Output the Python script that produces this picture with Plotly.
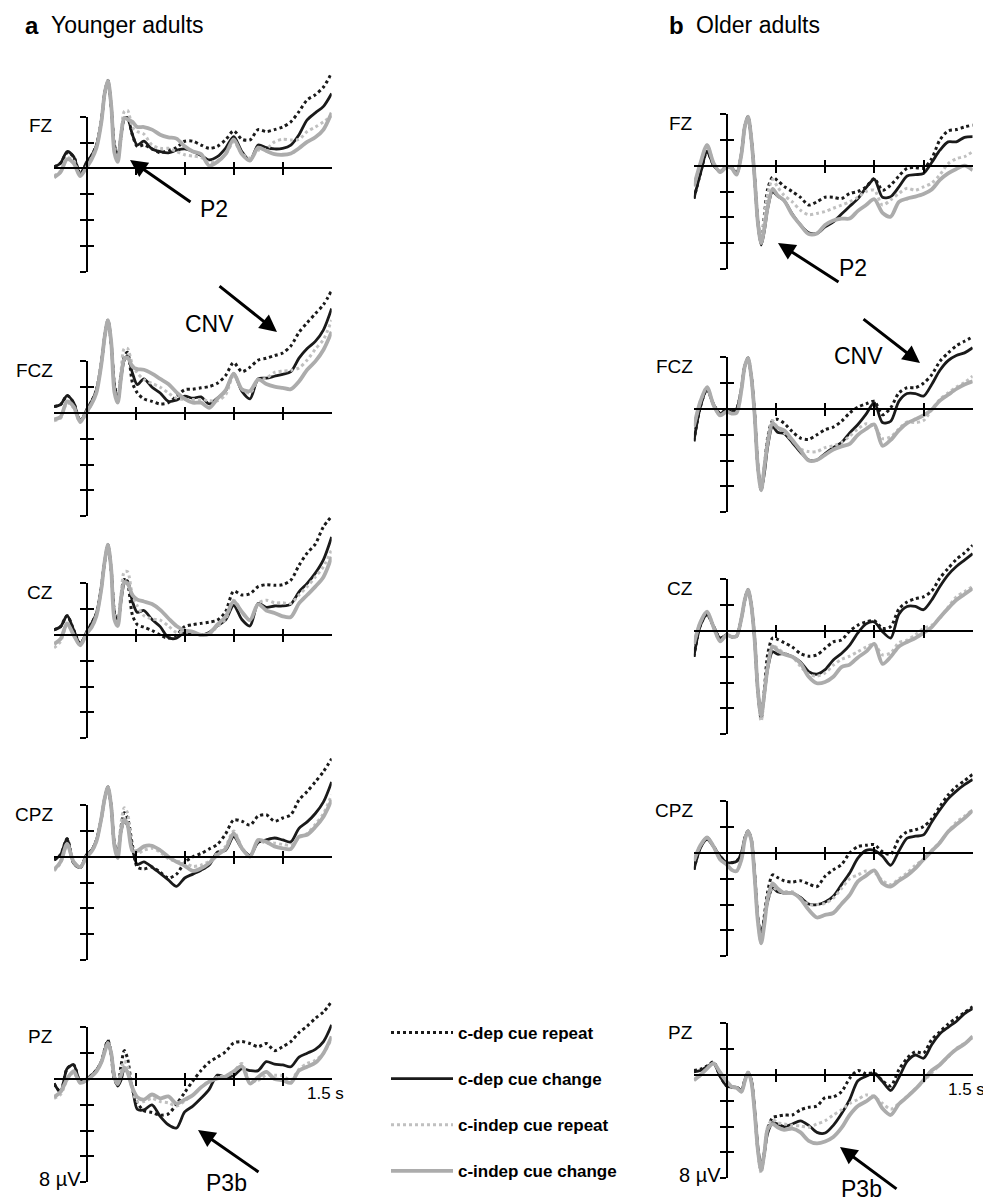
import plotly.graph_objects as go

# ---------------- data (µV, negative plotted up) ----------------
T = [-0.2, -0.16, -0.12, -0.08, -0.04, 0, 0.03, 0.06, 0.09, 0.11, 0.13, 0.15, 0.17, 0.19, 0.21, 0.23, 0.25,
     0.28, 0.31, 0.35, 0.4, 0.45, 0.5, 0.55, 0.6, 0.65, 0.7, 0.75, 0.8, 0.85, 0.9, 0.95, 1.0, 1.05, 1.1,
     1.15, 1.2, 1.25, 1.3, 1.35, 1.4, 1.45, 1.5]

ELECTRODES = ["FZ", "FCZ", "CZ", "CPZ", "PZ"]
CONDITIONS = ["c-dep cue repeat", "c-dep cue change", "c-indep cue repeat", "c-indep cue change"]
X_TICKS = [0.3, 0.6, 0.9, 1.2]
Y_TICKS = [-4, -2, 0, 2, 4, 6, 8]

# Younger adults
YA_FZ_REP = [-0.1,-0.4,-1.2,-0.9,0.4,-0.4,-1.0,-1.8,-3.7,-5.8,-6.8,-4.8,-1.8,-1.0,-2.4,-3.8,-3.9,-2.6,-1.7,-1.8,-1.5,-1.2,-1.4,-1.6,-2.1,-2.1,-1.8,-1.55,-1.7,-2.2,-2.9,-2.25,-2.2,-3.0,-2.85,-3.0,-3.2,-3.6,-4.4,-5.3,-5.7,-6.3,-7.4]
YA_FZ_CHG = [-0.1,-0.4,-1.3,-0.9,0.5,-0.5,-1.0,-1.8,-3.7,-5.8,-6.8,-4.8,-1.7,-0.9,-2.5,-3.9,-3.9,-2.6,-1.8,-2.1,-1.5,-1.3,-1.2,-1.4,-1.5,-1.3,-1.0,-0.65,-0.9,-1.55,-2.45,-1.3,-0.6,-1.8,-1.6,-1.5,-1.55,-1.8,-2.6,-3.75,-4.3,-4.8,-5.8]
YA_FZ_IREP = [0.6,0.2,-0.8,-0.6,0.6,-0.2,-0.8,-1.7,-3.6,-5.8,-6.8,-4.9,-1.6,-0.6,-2.6,-4.4,-4.5,-3.2,-2.85,-2.65,-1.8,-1.55,-1.55,-1.3,-1.05,-0.95,-0.85,-0.45,-0.6,-1.05,-2.05,-1.15,-0.8,-1.4,-1.5,-2.05,-2.25,-2.2,-2.25,-2.85,-3.2,-3.6,-4.05]
YA_FZ_ICHG = [0.7,0.3,-0.7,-0.4,0.6,-0.1,-0.7,-1.6,-3.6,-5.8,-6.8,-4.9,-1.2,-0.5,-2.5,-3.9,-3.8,-3.6,-3.2,-3.2,-3.0,-2.6,-2.4,-2.3,-1.7,-1.3,-1.1,-0.2,-0.5,-1.1,-2.25,-1.1,-0.6,-1.6,-1.35,-1.1,-1.05,-1.15,-1.55,-2.05,-2.4,-3.0,-4.3]

YA_FCZ_REP = [-0.5,-0.65,-1.35,-0.8,0.6,-0.25,-0.9,-1.8,-3.9,-5.9,-7.2,-5.4,-2.2,-1.2,-2.9,-4.4,-4.7,-2.35,-1.55,-1.1,-0.9,-0.7,-0.8,-1.3,-1.8,-1.85,-1.95,-2.05,-2.3,-2.9,-3.9,-3.2,-3.55,-4.1,-4.25,-4.45,-4.65,-5.2,-6.25,-7.0,-7.7,-8.4,-9.5]
YA_FCZ_CHG = [-0.5,-0.65,-1.35,-0.8,0.65,-0.25,-0.9,-1.8,-3.9,-5.9,-7.2,-5.4,-2.1,-0.9,-2.7,-4.1,-4.4,-3.1,-2.2,-2.65,-2.0,-1.55,-0.9,-1.0,-1.3,-1.15,-1.25,-0.7,-1.15,-1.7,-3.05,-1.7,-1.1,-2.65,-2.7,-2.85,-3.0,-3.2,-4.25,-5.0,-5.55,-6.45,-8.1]
YA_FCZ_IREP = [0.6,0.4,-0.8,-0.4,0.7,0.0,-0.7,-1.6,-3.8,-5.9,-7.2,-5.5,-1.8,-0.9,-3.2,-5.0,-5.0,-3.75,-3.1,-2.6,-2.3,-2.0,-1.55,-1.15,-1.05,-1.05,-1.05,-0.95,-0.95,-1.4,-2.9,-1.85,-1.55,-2.55,-2.7,-3.15,-3.25,-3.3,-3.5,-4.1,-4.95,-5.7,-7.2]
YA_FCZ_ICHG = [0.5,0.3,-0.9,-0.5,0.7,-0.1,-0.7,-1.6,-3.8,-5.9,-7.2,-5.5,-1.6,-0.8,-2.7,-4.2,-4.3,-3.6,-3.4,-3.35,-3.05,-2.65,-2.25,-1.6,-1.1,-0.8,-0.8,-0.4,-1.1,-1.75,-3.05,-1.85,-1.7,-2.6,-2.25,-2.05,-1.95,-1.85,-2.45,-3.35,-4.0,-4.9,-6.3]

YA_CZ_REP = [-0.4,-0.65,-1.5,-0.4,0.7,-0.25,-0.9,-1.7,-3.75,-5.7,-7.0,-5.05,-1.8,-1.0,-2.8,-4.3,-4.0,-1.55,-0.8,-0.6,-0.35,0.0,0.25,0.0,-0.65,-0.8,-0.9,-1.0,-1.15,-1.8,-3.4,-3.1,-3.2,-3.75,-3.9,-3.85,-3.9,-4.25,-5.4,-6.35,-7.05,-8.4,-9.2]
YA_CZ_CHG = [-0.4,-0.65,-1.5,-0.4,0.7,-0.25,-0.9,-1.7,-3.75,-5.7,-7.0,-5.05,-1.7,-0.9,-2.6,-4.0,-4.2,-2.6,-1.75,-1.9,-1.2,-0.65,0.2,0.25,-0.2,-0.15,0.0,-0.2,-0.7,-1.15,-2.3,-1.2,-0.7,-2.45,-2.15,-2.25,-2.25,-2.4,-3.35,-4.0,-4.8,-5.85,-7.6]
YA_CZ_IREP = [1.0,0.5,-0.8,0.0,0.8,-0.1,-0.6,-1.5,-3.6,-5.7,-7.0,-5.1,-1.6,-0.8,-3.0,-4.9,-4.9,-3.1,-2.25,-1.5,-1.25,-1.15,-0.7,-0.2,-0.25,-0.15,-0.05,-0.1,-0.65,-1.2,-2.7,-1.8,-1.15,-2.45,-2.7,-2.5,-2.5,-2.45,-3.1,-3.75,-4.5,-5.3,-6.6]
YA_CZ_ICHG = [0.7,0.3,-0.9,0.0,0.8,-0.1,-0.6,-1.5,-3.6,-5.7,-7.0,-5.1,-1.2,-0.7,-2.8,-4.1,-4.0,-3.1,-2.75,-2.6,-2.4,-1.95,-1.3,-0.7,-0.35,-0.25,0.0,-0.1,-0.8,-1.4,-2.6,-1.8,-1.15,-2.4,-1.9,-1.7,-1.45,-1.4,-2.45,-3.1,-3.75,-4.5,-6.05]

YA_CPZ_REP = [0.25,-0.15,-1.4,0.5,0.85,-0.15,-0.5,-1.3,-3.0,-4.5,-5.4,-3.9,-1.0,-0.3,-2.2,-3.4,-3.0,-0.9,0.8,0.95,0.8,1.2,1.65,1.35,0.45,0.0,-0.25,-0.6,-0.95,-1.75,-2.85,-2.75,-2.45,-3.15,-3.25,-2.75,-3.0,-3.25,-4.4,-5.05,-5.8,-6.6,-7.6]
YA_CPZ_CHG = [0.25,-0.15,-1.4,0.5,0.85,-0.15,-0.5,-1.3,-3.0,-4.5,-5.4,-3.9,-0.9,-0.15,-1.95,-2.75,-2.45,-0.65,0.6,0.4,0.8,1.3,1.8,2.3,1.65,1.35,1.05,0.65,-0.35,-0.5,-1.55,-0.65,-0.1,-1.1,-1.3,-1.45,-1.3,-1.15,-2.2,-2.7,-3.35,-4.25,-5.8]
YA_CPZ_IREP = [1.1,0.5,-0.9,0.4,0.8,0.0,-0.4,-1.2,-3.0,-4.5,-5.4,-3.9,-1.0,-0.1,-2.6,-3.8,-3.4,-0.65,-0.25,-0.5,-0.65,-0.35,0.15,0.35,0.45,0.75,0.65,0.35,-0.25,-0.8,-2.0,-0.7,0.0,-1.2,-1.05,-1.05,-0.95,-0.9,-1.45,-1.8,-2.5,-3.35,-4.8]
YA_CPZ_ICHG = [1.0,0.4,-1.0,0.4,0.8,0.0,-0.4,-1.2,-3.0,-4.5,-5.4,-3.9,-0.8,0.1,-2.0,-2.9,-2.5,-0.45,-0.45,-0.8,-0.85,-0.5,0.0,0.4,0.7,1.1,0.9,0.5,-0.15,-0.6,-1.8,-0.65,0.0,-1.3,-1.15,-0.8,-0.65,-0.6,-1.55,-1.7,-2.3,-3.1,-4.4]

YA_PZ_REP = [0.35,1.0,-0.8,-1.1,0.2,0.0,-0.3,-0.7,-1.35,-2.3,-3.0,-1.9,0.1,0.4,-1.0,-2.2,-1.6,0.85,1.85,2.45,2.6,2.8,2.7,1.95,1.05,0.15,-0.65,-1.3,-1.7,-2.1,-2.8,-2.9,-2.75,-2.5,-2.75,-2.2,-2.5,-2.9,-3.6,-4.1,-4.7,-5.2,-6.0]
YA_PZ_CHG = [0.35,1.0,-0.8,-1.1,0.2,0.0,-0.3,-0.7,-1.35,-2.25,-2.95,-2.0,-0.2,0.55,0.1,-0.8,-0.55,0.7,2.35,2.4,2.0,2.9,3.55,3.8,2.55,2.1,1.5,0.8,-0.3,-0.15,-0.25,-0.8,-0.65,-0.65,-1.35,-1.15,-1.1,-0.95,-1.7,-2.0,-2.3,-2.9,-4.2]
YA_PZ_IREP = [1.5,1.2,0.1,-0.5,0.3,0.1,-0.2,-0.6,-1.3,-2.1,-2.8,-2.0,-0.2,0.3,-0.6,-1.4,-1.0,0.9,1.75,1.75,1.5,1.75,1.85,2.1,1.7,1.25,0.65,0.15,-0.15,-0.25,-0.55,-1.2,0.2,0.1,-0.3,-0.3,-0.25,0.1,-0.75,-1.2,-1.45,-2.0,-3.15]
YA_PZ_ICHG = [1.4,1.0,0.0,-0.6,0.3,0.1,-0.2,-0.6,-1.3,-2.1,-2.8,-2.0,-0.1,0.4,-0.3,-0.9,-0.5,0.7,1.4,1.6,1.2,1.5,1.35,1.9,1.6,1.25,0.65,0.2,-0.05,-0.2,-0.6,-1.0,0.35,-0.15,-0.55,0.0,0.1,0.3,-0.65,-0.95,-1.25,-2.0,-3.3]

# Older adults
OA_FZ_REP = [2.55,0.6,-1.1,-0.05,0.45,0.05,0.15,0.6,-0.95,-3.0,-3.8,-2.1,0.85,4.3,5.9,3.8,1.8,0.9,1.15,1.6,2.0,2.45,3.05,2.8,2.45,2.45,2.55,2.15,2.0,1.65,1.0,1.9,1.5,0.8,0.2,0.15,0.2,-0.55,-2.0,-2.7,-2.8,-3.0,-3.15]
OA_FZ_CHG = [2.55,0.6,-1.1,-0.05,0.45,0.05,0.15,0.6,-0.95,-3.0,-3.8,-2.1,0.85,4.45,6.15,5.0,3.3,2.0,2.35,2.7,3.75,4.6,5.2,5.25,4.75,4.35,3.75,3.15,2.55,1.7,1.05,2.45,2.4,1.65,0.8,0.7,0.6,-0.25,-1.2,-1.85,-1.85,-2.2,-2.25]
OA_FZ_IREP = [1.6,-0.2,-1.6,-0.2,0.5,0.1,0.2,0.7,-0.9,-3.0,-3.8,-2.1,0.9,4.3,5.8,4.0,2.2,1.05,1.65,2.3,2.8,3.45,3.8,3.7,3.55,3.3,3.05,2.8,2.45,2.0,1.9,3.05,2.65,2.15,1.75,1.9,1.65,1.35,0.7,-0.15,-0.55,-0.7,-1.1]
OA_FZ_ICHG = [1.6,-0.2,-1.6,-0.2,0.5,0.1,0.2,0.7,-0.9,-3.0,-3.8,-2.1,0.9,4.4,6.0,4.8,3.2,1.8,2.3,2.7,3.8,4.6,5.3,5.25,4.6,4.25,4.1,4.1,3.5,3.05,2.6,3.65,3.95,2.8,2.55,2.4,2.2,1.85,1.1,0.6,0.25,0.0,0.35]

OA_FCZ_REP = [2.5,-0.2,-1.5,-0.35,0.35,0.05,0.2,0.0,-1.6,-3.3,-3.95,-2.55,0.3,4.4,6.3,4.5,2.2,0.9,0.8,1.1,1.75,2.25,2.35,2.0,1.6,1.4,0.95,0.3,-0.15,-0.4,-0.6,0.45,-0.1,-1.25,-1.65,-1.65,-2.0,-2.65,-3.7,-4.35,-4.9,-5.25,-5.6]
OA_FCZ_CHG = [2.5,-0.2,-1.5,-0.35,0.35,0.05,0.2,0.0,-1.6,-3.3,-3.95,-2.55,0.3,4.45,6.25,4.95,2.9,1.35,1.8,1.9,2.6,3.35,3.95,3.95,3.45,3.0,2.6,1.85,1.2,0.4,-0.5,1.05,0.95,-0.6,-1.2,-1.2,-1.0,-1.9,-3.0,-3.75,-4.15,-4.35,-4.75]
OA_FCZ_IREP = [1.35,-0.6,-1.7,-0.3,0.5,0.2,0.35,0.3,-1.5,-3.3,-3.95,-2.5,0.4,4.4,6.2,4.4,2.4,0.9,1.45,1.85,2.45,3.1,3.3,3.3,3.0,2.85,2.6,2.1,1.55,1.15,1.35,2.3,2.15,1.55,1.0,1.05,0.9,0.05,-0.75,-1.25,-1.7,-2.05,-2.55]
OA_FCZ_ICHG = [1.35,-0.6,-1.7,-0.3,0.5,0.2,0.35,0.3,-1.5,-3.3,-3.95,-2.5,0.4,4.5,6.3,4.5,2.6,1.1,1.45,1.65,2.4,3.2,4.0,3.95,3.55,3.15,2.9,2.7,2.0,1.55,1.2,2.85,2.4,1.65,1.1,0.8,0.5,0.05,-0.65,-1.1,-1.55,-1.9,-2.15]

OA_CZ_REP = [2.0,-0.45,-1.3,-0.35,0.55,0.3,0.45,0.4,-1.0,-2.4,-3.2,-2.0,0.55,4.7,6.8,4.5,1.8,0.55,0.65,0.9,1.25,1.75,1.95,1.85,1.35,0.85,0.7,0.0,-0.45,-0.7,-0.8,-0.2,-0.35,-1.7,-2.25,-2.5,-2.65,-3.1,-4.1,-4.85,-5.55,-6.05,-6.65]
OA_CZ_CHG = [2.0,-0.45,-1.3,-0.35,0.55,0.3,0.45,0.4,-1.0,-2.4,-3.2,-2.0,0.55,4.55,6.4,4.85,2.9,1.6,1.8,1.75,2.0,2.4,3.15,3.35,3.0,2.25,1.75,1.1,0.15,-0.55,-0.7,0.05,0.55,-1.3,-1.9,-1.9,-1.65,-2.4,-3.45,-4.35,-5.0,-5.5,-6.0]
OA_CZ_IREP = [1.0,-0.7,-1.5,-0.3,0.8,0.3,0.45,0.4,-1.0,-2.4,-3.2,-2.0,0.6,4.8,7.0,5.0,2.6,1.1,1.35,1.7,2.0,2.75,3.35,3.5,3.25,2.65,2.2,1.95,1.6,1.25,1.0,1.85,1.7,0.9,0.7,0.3,-0.2,-0.45,-1.0,-1.85,-2.65,-3.05,-3.45]
OA_CZ_ICHG = [1.0,-0.7,-1.5,-0.3,0.8,0.3,0.45,0.4,-1.0,-2.4,-3.2,-2.0,0.6,4.6,6.6,4.8,2.8,1.2,1.5,1.8,2.0,2.5,3.55,4.05,3.95,3.55,2.8,2.6,2.05,1.6,1.0,2.55,2.0,1.2,0.85,0.55,0.15,-0.3,-1.05,-1.75,-2.4,-2.85,-3.3]

OA_CPZ_REP = [1.3,-0.5,-1.2,-0.5,0.25,0.75,0.75,0.65,0.0,-1.15,-1.7,-1.05,1.55,5.0,6.6,4.8,3.0,1.7,1.9,2.15,2.25,2.15,2.4,2.6,1.8,1.3,0.9,0.0,-0.5,-0.6,-0.65,-0.1,0.1,-1.1,-1.65,-1.8,-2.05,-2.65,-3.6,-4.5,-5.15,-5.6,-6.1]
OA_CPZ_CHG = [1.3,-0.4,-1.05,-0.5,0.25,0.75,0.75,0.65,0.0,-1.15,-1.7,-1.05,1.55,5.05,6.45,5.05,3.75,2.7,3.0,3.1,3.1,3.45,3.95,4.0,3.8,3.35,2.45,1.55,0.4,-0.2,-0.2,0.25,0.95,-0.15,-1.15,-1.3,-1.4,-2.4,-3.35,-4.2,-4.8,-5.3,-5.7]
OA_CPZ_IREP = [0.6,-0.6,-1.2,-0.5,0.5,0.9,1.3,1.4,0.5,-1.0,-1.7,-1.0,1.8,5.3,7.0,5.3,3.8,2.65,2.9,3.0,3.0,3.55,4.0,4.0,3.9,3.5,2.75,2.0,1.7,1.4,1.5,2.15,2.45,2.0,1.55,0.95,0.5,-0.2,-0.85,-1.65,-2.4,-2.85,-3.35]
OA_CPZ_ICHG = [0.6,-0.6,-1.2,-0.5,0.5,0.9,1.3,1.4,0.5,-1.0,-1.7,-1.0,1.8,5.3,7.0,5.5,3.5,2.35,2.75,3.1,3.1,3.55,4.4,5.0,4.8,4.65,3.95,3.25,2.2,1.75,1.35,2.35,2.6,2.15,1.75,1.2,0.5,-0.15,-0.8,-1.65,-2.2,-2.7,-3.3]

OA_PZ_REP = [-0.35,-0.45,-0.7,-1.0,0.1,0.85,0.95,0.95,1.2,0.4,-0.2,0.4,2.7,5.8,7.4,6.0,4.2,3.3,3.2,3.1,3.1,2.7,2.5,2.4,1.75,1.7,1.3,0.25,-0.35,-0.1,-0.15,0.45,0.85,-0.4,-1.3,-1.8,-1.7,-2.75,-3.35,-3.95,-4.4,-4.85,-5.3]
OA_PZ_CHG = [-0.25,-0.35,-0.65,-0.9,0.1,0.85,0.95,0.95,1.2,0.4,-0.2,0.4,2.6,5.55,7.1,5.95,4.5,3.7,3.8,4.0,3.8,3.55,3.9,4.45,4.5,3.9,3.0,1.9,0.45,0.1,-0.1,0.5,1.2,0.2,-1.05,-1.55,-1.3,-2.35,-3.2,-3.7,-4.15,-4.75,-5.15]
OA_PZ_IREP = [0.4,0.0,-0.5,-0.9,-0.2,0.5,0.9,1.0,1.3,0.5,-0.2,0.5,2.8,5.9,7.6,6.0,4.0,3.45,3.7,3.8,3.9,3.95,4.05,3.8,3.55,3.1,2.7,2.2,1.9,1.55,1.7,2.2,2.65,2.2,1.65,1.1,0.5,-0.15,-0.8,-1.4,-2.05,-2.45,-2.85]
OA_PZ_ICHG = [0.4,0.0,-0.5,-0.9,-0.2,0.5,0.9,1.0,1.3,0.5,-0.2,0.5,2.8,5.8,7.4,6.0,4.2,3.8,4.05,4.25,4.15,4.45,5.1,5.3,5.15,4.8,4.1,3.1,2.4,2.05,1.65,2.6,3.1,2.25,1.7,1.1,0.4,-0.35,-0.8,-1.45,-2.0,-2.4,-3.0]

DATA = {
    "young": {
        "FZ": [YA_FZ_REP, YA_FZ_CHG, YA_FZ_IREP, YA_FZ_ICHG],
        "FCZ": [YA_FCZ_REP, YA_FCZ_CHG, YA_FCZ_IREP, YA_FCZ_ICHG],
        "CZ": [YA_CZ_REP, YA_CZ_CHG, YA_CZ_IREP, YA_CZ_ICHG],
        "CPZ": [YA_CPZ_REP, YA_CPZ_CHG, YA_CPZ_IREP, YA_CPZ_ICHG],
        "PZ": [YA_PZ_REP, YA_PZ_CHG, YA_PZ_IREP, YA_PZ_ICHG],
    },
    "old": {
        "FZ": [OA_FZ_REP, OA_FZ_CHG, OA_FZ_IREP, OA_FZ_ICHG],
        "FCZ": [OA_FCZ_REP, OA_FCZ_CHG, OA_FCZ_IREP, OA_FCZ_ICHG],
        "CZ": [OA_CZ_REP, OA_CZ_CHG, OA_CZ_IREP, OA_CZ_ICHG],
        "CPZ": [OA_CPZ_REP, OA_CPZ_CHG, OA_CPZ_IREP, OA_CPZ_ICHG],
        "PZ": [OA_PZ_REP, OA_PZ_CHG, OA_PZ_IREP, OA_PZ_ICHG],
    },
}
for grp in DATA.values():
    for series in grp.values():
        for s in series:
            assert len(s) == len(T), len(s)

# ---------------- layout geometry (page pixels) ----------------
PAGE_OFF = 8                     # default body margin of the html page
W, H = 991 - PAGE_OFF, 1201 - PAGE_OFF
PX_UV = 12.9
FONT = "Liberation Sans, Arial, Helvetica, sans-serif"
COLS = {
    "young": dict(x0=86.7, pps=163.3, zeros=[168.3, 413, 635, 856.7, 1079]),
    "old": dict(x0=726.7, pps=164.0, zeros=[165.7, 409, 631, 853, 1075]),
}
STYLES = [
    dict(color="#1a1a1a", width=3, dash="dot"),
    dict(color="#1a1a1a", width=2.8, dash="solid"),
    dict(color="#c0c0c0", width=3, dash="dot"),
    dict(color="#acacac", width=3.8, dash="solid"),
]


def px(x):
    return (x - PAGE_OFF) / W


def py(y):
    return 1 - (y - PAGE_OFF) / H


def nm(p, n):
    return p if n == 1 else f"{p}{n}"


def key(p, n):
    return f"{p}axis" if n == 1 else f"{p}axis{n}"


fig = go.Figure()
layout_axes = {}
annotations = []
NP = 10
k = 0
for col, cfg in COLS.items():
    x0, pps = cfg["x0"], cfg["pps"]
    for r, el in enumerate(ELECTRODES):
        k += 1
        z = cfg["zeros"][r]
        xdom = [px(x0 + T[0] * pps), px(x0 + T[-1] * pps)]
        for i, (cond, st) in enumerate(zip(CONDITIONS, STYLES)):
            fig.add_trace(go.Scatter(
                x=T, y=DATA[col][el][i], mode="lines", name=cond,
                line=dict(color=st["color"], width=st["width"], dash=st["dash"], shape="spline", smoothing=0.8),
                xaxis=nm("x", k), yaxis=nm("y", k), legendgroup=cond, showlegend=(k == 1),
                hoverinfo="skip"))
        # helper (empty) traces registering the drawn axes
        fig.add_trace(go.Scatter(x=[], y=[], xaxis=nm("x", k), yaxis=nm("y", k + NP), showlegend=False))
        fig.add_trace(go.Scatter(x=[], y=[], xaxis=nm("x", k), yaxis=nm("y", k + 2 * NP), showlegend=False))
        fig.add_trace(go.Scatter(x=[], y=[], xaxis=nm("x", k + NP), yaxis=nm("y", k), showlegend=False))

        common = dict(showgrid=False, zeroline=False, showticklabels=False, tickcolor="black",
                      tickwidth=2, ticklen=6, tickmode="array")
        # data x axis, drawn at y = 0
        layout_axes[key("x", k)] = dict(domain=xdom, range=[T[0], T[-1]], anchor="free",
                                        position=py(z), showline=True, linecolor="black", linewidth=2,
                                        ticks="outside", tickvals=X_TICKS, side="bottom", **common)
        layout_axes[key("x", k + NP)] = dict(overlaying=nm("x", k), range=[T[0], T[-1]], anchor="free",
                                             position=py(z), showline=False, ticks="inside",
                                             tickvals=X_TICKS, side="bottom", **common)
        # data y axis (invisible, roomy)
        layout_axes[key("y", k)] = dict(domain=[py(z + 9 * PX_UV), py(z - 10 * PX_UV)], range=[9, -10],
                                        visible=False, anchor=nm("x", k))
        # drawn y axis at t = 0, from -4 to 8 µV
        ydom = [py(z + 8 * PX_UV), py(z - 4 * PX_UV)]
        layout_axes[key("y", k + NP)] = dict(domain=ydom, range=[8, -4], anchor="free", position=px(x0),
                                             showline=True, linecolor="black", linewidth=2,
                                             ticks="outside", tickvals=Y_TICKS, side="left", **common)
        layout_axes[key("y", k + 2 * NP)] = dict(overlaying=nm("y", k + NP), range=[8, -4], anchor="free",
                                                 position=px(x0), showline=False, ticks="inside",
                                                 tickvals=Y_TICKS, side="left", **common)
        # electrode label
        annotations.append(dict(text=el, x=px(x0 + T[0] * pps + 1), y=py(z - 4 * PX_UV + 9),
                                xref="paper", yref="paper", xanchor="right", yanchor="middle",
                                showarrow=False, font=dict(family=FONT, size=19, color="black")))
        if el == "PZ":
            annotations.append(dict(text="8 µV", x=px(x0 - 4), y=py(z + 8 * PX_UV - 3),
                                    xref="paper", yref="paper", xanchor="right", yanchor="middle",
                                    showarrow=False, font=dict(family=FONT, size=20, color="black")))
            annotations.append(dict(text="1.5 s", x=px(x0 + 1.5 * pps - 6), y=py(z + 14),
                                    xref="paper", yref="paper", xanchor="center", yanchor="middle",
                                    showarrow=False, font=dict(family=FONT, size=17, color="black")))

# titles
for letter, title, lx, tx in [("a", "Younger adults", 23, 49), ("b", "Older adults", 667, 694)]:
    annotations.append(dict(text=f"<b>{letter}</b>", x=px(lx), y=py(25), xref="paper", yref="paper",
                            xanchor="left", yanchor="middle", showarrow=False,
                            font=dict(family=FONT, size=24, color="black")))
    annotations.append(dict(text=title, x=px(tx), y=py(25), xref="paper", yref="paper",
                            xanchor="left", yanchor="middle", showarrow=False,
                            font=dict(family=FONT, size=23, color="black")))

# component arrows: (label, label centre, arrow head, arrow tail) in page pixels
ARROWS = [
    ("P2", (214, 209), (130, 160), (192, 203)),
    ("CNV", (209, 324), (277, 332), (218, 285)),
    ("P3b", (226, 1183), (198, 1130), (260, 1173)),
    ("P2", (853, 268), (778, 243), (840, 283)),
    ("CNV", (858, 356), (920, 363), (862, 318)),
    ("P3b", (861, 1189), (840, 1147), (898, 1190)),
]
for lab, (cx, cy), (hx, hy), (tx_, ty_) in ARROWS:
    annotations.append(dict(text="", x=px(hx), y=py(hy), xref="paper", yref="paper",
                            ax=tx_ - hx, ay=ty_ - hy, showarrow=True, arrowhead=2, arrowsize=1.15,
                            arrowwidth=3, arrowcolor="black", standoff=0))
    annotations.append(dict(text=lab, x=px(cx), y=py(cy), xref="paper", yref="paper",
                            xanchor="center", yanchor="middle", showarrow=False,
                            font=dict(family=FONT, size=23, color="black")))

fig.update_layout(
    width=W, height=H, margin=dict(l=0, r=0, t=0, b=0),
    paper_bgcolor="white", plot_bgcolor="rgba(0,0,0,0)",
    annotations=annotations,
    showlegend=True,
    legend=dict(x=px(386), y=py(1015), xanchor="left", yanchor="top", bgcolor="rgba(0,0,0,0)",
                font=dict(family=FONT, size=17, color="black", weight="bold"),
                itemwidth=62, tracegroupgap=21, traceorder="grouped"),
    **layout_axes,
)
fig.write_html("out.html")
